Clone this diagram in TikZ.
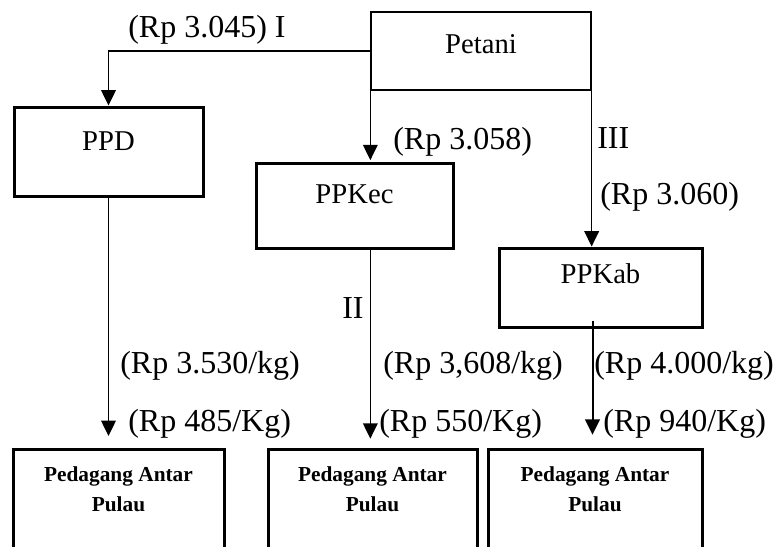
\documentclass[tikz,border=0pt]{standalone}
\usepackage{fontspec}
\setmainfont{Liberation Serif}
\usetikzlibrary{arrows.meta}

\begin{document}
\begin{tikzpicture}[x=0.75pt,y=-0.75pt,
  box/.style={draw,line width=2.25pt,inner sep=0pt,font=\fontsize{21.5}{26}\selectfont},
  dest/.style={draw,line width=2.25pt,inner sep=0pt,anchor=north,align=center,
    text height=46.5pt,text depth=43.5pt,font=\bfseries\fontsize{16}{22.5}\selectfont},
  lbl/.style={anchor=west,inner sep=0pt,font=\fontsize{24}{28}\selectfont},
  flow/.style={->,line width=1pt},
  >={Triangle[length=11.5pt,width=11pt]}]
\clip (0,0) rectangle (776,547);
\node[box,line width=1pt,minimum width=165pt,text height=30.75pt,text depth=27.75pt] (petani) at (481,51) {Petani};
\node[box,minimum width=141.75pt,text height=32.25pt,text depth=34.5pt] (ppd) at (108.5,151.5) {PPD};
\node[box,minimum width=147.75pt,text height=30pt,text depth=33.75pt] (ppkec) at (354.5,205.5) {PPKec};
\node[box,minimum width=152.25pt,text height=26.25pt,text depth=33pt] (ppkab) at (600.5,287.5) {PPKab};
\node[dest,minimum width=158.25pt] (pa1) at (118.5,448) {Pedagang Antar\\Pulau};
\node[dest,minimum width=156.75pt] (pa2) at (372.5,448) {Pedagang Antar\\Pulau};
\node[dest,minimum width=160.5pt] (pa3) at (595,448) {Pedagang Antar\\Pulau};
\coordinate (kabout) at ([xshift=-6pt,yshift=6pt]ppkab.south);
\draw[flow] (petani.west) -| (ppd.north);
\draw[flow,shorten >=1pt] (petani.south west) -- (petani.south west |- ppkec.north);
\draw[flow] (petani.south east) -- (petani.south east |- ppkab.north);
\draw[flow,shorten >=9pt] (ppd.south) -- (ppd.south |- pa1.north);
\draw[flow,shorten >=7pt] (petani.west |- ppkec.south) -- (petani.west |- pa2.north);
\draw[flow,line width=1.5pt,shorten >=10pt] (kabout) -- (kabout |- pa3.north);
\node[lbl] (p1) at (128,30) {(Rp 3.045) I};
\node[lbl] (p2) at (393,142) {(Rp 3.058)};
\node[lbl] (r3) at (597,138) {III};
\node[lbl] (p3) at (600,197) {(Rp 3.060)};
\node[lbl] (r2) at (342,308) {II};
\node[lbl] (h1) at (120,366) {(Rp 3.530/kg)};
\node[lbl] (m1) at (128,423.5) {(Rp 485/Kg)};
\node[lbl] (h2) at (383,366) {(Rp 3,608/kg)};
\node[lbl] (m2) at (379,423.5) {(Rp 550/Kg)};
\node[lbl] (h3) at (594,366) {(Rp 4.000/kg)};
\node[lbl] (m3) at (603,423.5) {(Rp 940/Kg)};
\end{tikzpicture}
\end{document}
